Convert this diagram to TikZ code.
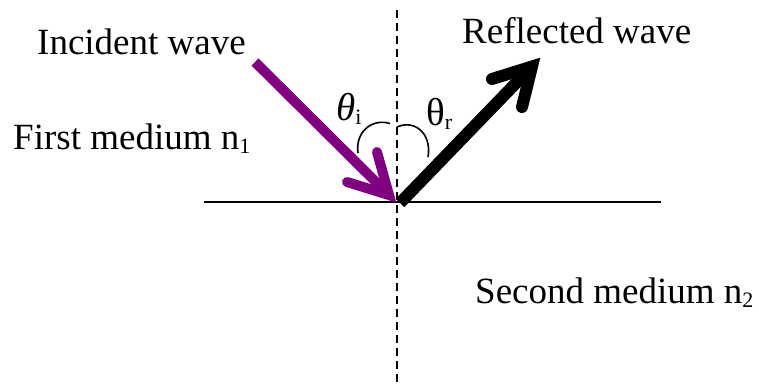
\documentclass[tikz,border=0pt]{standalone}
\usepackage{fontspec}
\setmainfont{Liberation Serif}
\newcommand{\lowsub}[1]{\raisebox{-4.5bp}{\fontsize{22bp}{22bp}\selectfont #1}}
\newcommand{\angsub}[1]{\raisebox{-4bp}{\fontsize{22bp}{22bp}\selectfont #1}}
\definecolor{incpurple}{RGB}{128,0,128}
\begin{document}
\begin{tikzpicture}[x=1bp,y=-1bp,
  lbl/.style={anchor=base west,inner sep=0pt,font=\fontsize{37bp}{44bp}\selectfont},
  anglbl/.style={anchor=base west,inner sep=0pt,font=\fontsize{39bp}{44bp}\selectfont},
  thinline/.style={line width=2bp,black},
  normal/.style={line width=2bp,black,dash pattern=on 8bp off 5bp},
  incshaft/.style={line width=10bp,incpurple,line cap=butt},
  inchead/.style={line width=10bp,incpurple,line cap=round,line join=miter},
  refshaft/.style={line width=12bp,black,line cap=butt},
  refhead/.style={line width=12bp,black,line cap=round,line join=miter},
  anglearc/.style={line width=1.6bp,black}
]
\useasboundingbox (0,0) rectangle (759,389);
% coordinates
\coordinate (O) at (397,202);
\coordinate (ntop) at (396.5,10);
\coordinate (nbot) at (396.5,383);
\coordinate (sl) at (204,202.3);
\coordinate (sr) at (660.5,202.3);
\coordinate (I) at (255,62);
\coordinate (Iv) at (389,195);
\coordinate (Ia) at (377,152);
\coordinate (Ib) at (347,182);
\coordinate (Rs) at (400,203);
\coordinate (R) at (532,66.5);
\coordinate (Ra) at (492,79);
\coordinate (Rb) at (522,107);
% surface and normal
\draw[thinline] (sl) -- (sr);
\draw[normal] (ntop) -- (nbot);
% incident wave
\draw[incshaft] (I) -- (Iv);
\draw[inchead] (Ia) -- (Iv) -- (Ib);
% reflected wave
\draw[refshaft] (Rs) -- (R);
\draw[refhead] (Ra) -- (R) -- (Rb);
% angle arcs
\coordinate (la1) at (358,153);
\coordinate (la2) at (390,123.5);
\coordinate (ra1) at (397,127);
\coordinate (ra2) at (428,157);
\draw[anglearc] (la1) .. controls (355,132) and (372,118) .. (la2);
\draw[anglearc] (ra1) .. controls (415,119) and (432,134) .. (ra2);
% labels
\node[lbl] (incident) at (37,54) {Incident wave};
\node[lbl] (reflected) at (462,43) {Reflected wave};
\node[lbl] (first) at (13,149) {First medium n\lowsub{1}};
\node[lbl] (second) at (475,303) {Second medium n\lowsub{2}};
\node[anglbl] (thetai) at (336,120.5) {\textit{θ}\angsub{i}};
\node[anglbl] (thetar) at (426,125) {θ\angsub{r}};
\end{tikzpicture}
\end{document}
